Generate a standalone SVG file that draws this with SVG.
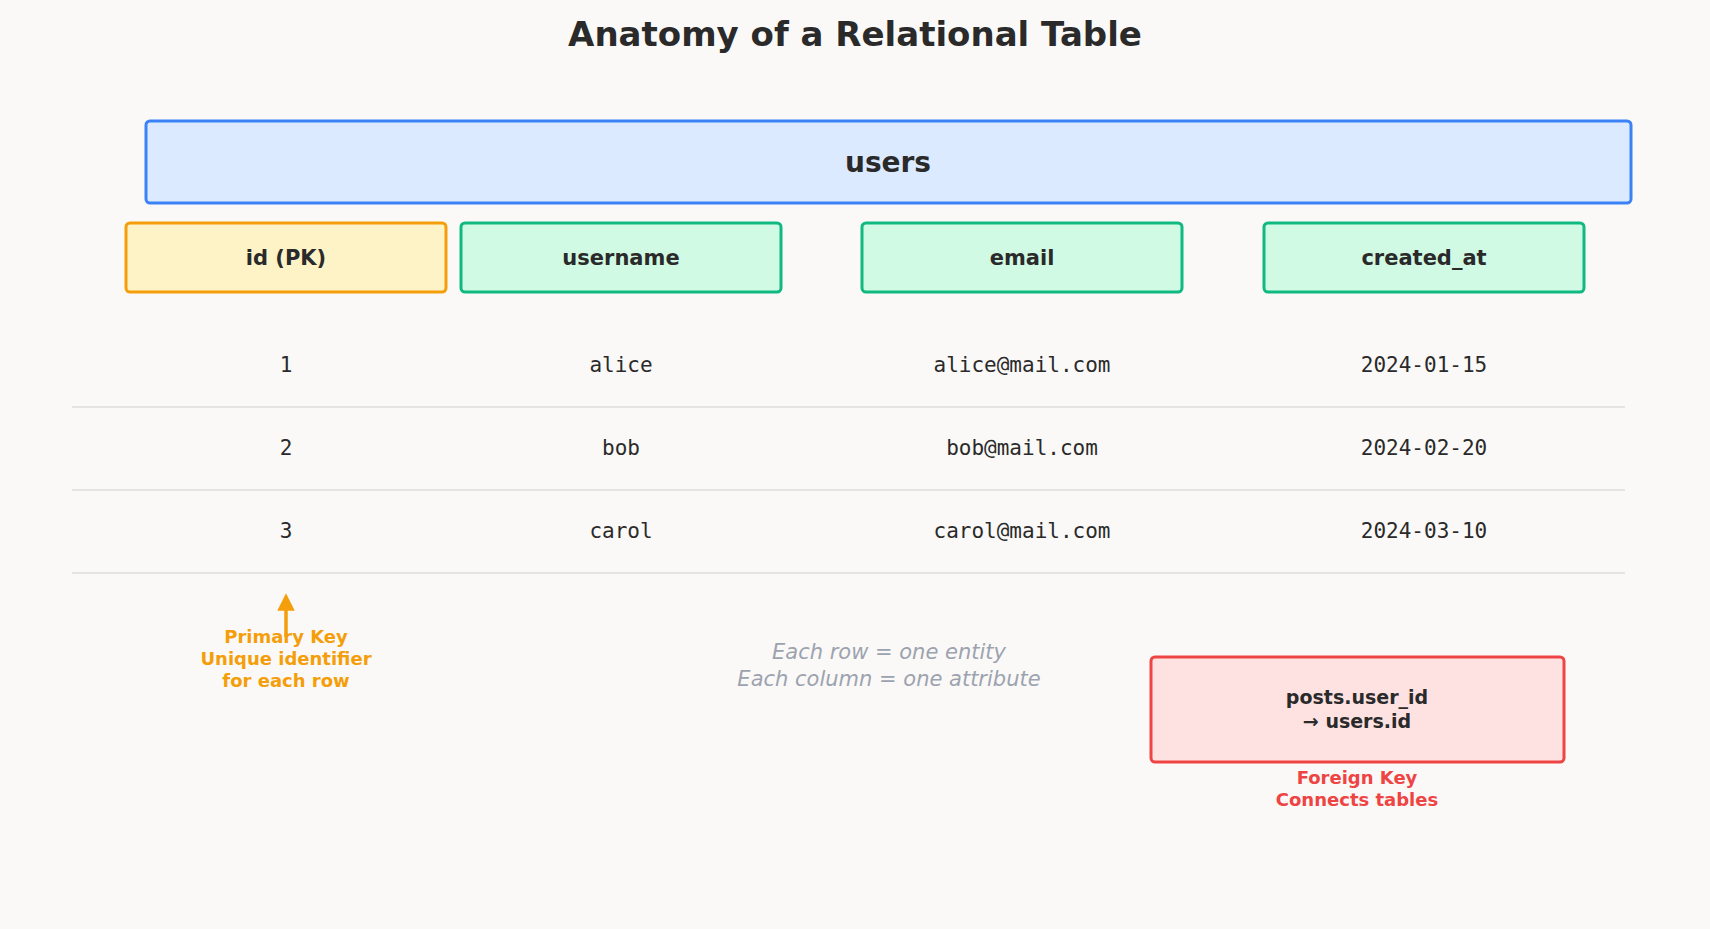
<svg xmlns="http://www.w3.org/2000/svg" width="1710" height="929" viewBox="0 0 1710 929">
<style>
text{font-family:"DejaVu Sans",sans-serif;text-anchor:middle;dominant-baseline:central}
.hdr{font-weight:bold;font-size:21px;fill:#2a2a2a}
.cell{font-family:"DejaVu Sans Mono",monospace;font-size:21px;fill:#2a2a2a}
.row{stroke:#dddddd;stroke-width:1.5}
.col{fill:#d1fae5;stroke:#10b981;stroke-width:3}
.pk{font-weight:bold;font-size:18px;fill:#f59e0b}
.fk{font-weight:bold;font-size:18px;fill:#ef4444}
</style>
<defs><marker id="ah" viewBox="0 0 10 10" refX="5" refY="5" markerWidth="5" markerHeight="5" orient="auto"><path d="M0,0L10,5L0,10z" fill="#f59e0b"/></marker></defs>
<rect width="1710" height="929" fill="#faf9f7"/>
<text x="855" y="34" font-size="34" font-weight="bold" fill="#2a2a2a">Anatomy of a Relational Table</text>
<g id="users"><rect x="146" y="121" width="1485" height="82" rx="4" fill="#dbeafe" stroke="#3b82f6" stroke-width="3"/><text x="888" y="162" font-size="28" font-weight="bold" fill="#2a2a2a">users</text></g>
<g id="col-id"><rect x="126" y="223" width="320" height="69" rx="4" fill="#fef3c7" stroke="#f59e0b" stroke-width="3"/><text class="hdr" x="286" y="258">id (PK)</text></g>
<g id="col-username"><rect class="col" x="461" y="223" width="320" height="69" rx="4"/><text class="hdr" x="621" y="258">username</text></g>
<g id="col-email"><rect class="col" x="862" y="223" width="320" height="69" rx="4"/><text class="hdr" x="1022" y="258">email</text></g>
<g id="col-created"><rect class="col" x="1264" y="223" width="320" height="69" rx="4"/><text class="hdr" x="1424" y="258">created_at</text></g>
<g id="rows">
<text class="cell" x="286" y="365">1</text><text class="cell" x="621" y="365">alice</text><text class="cell" x="1022" y="365">alice@mail.com</text><text class="cell" x="1424" y="365">2024-01-15</text>
<line class="row" x1="72" y1="407" x2="1625" y2="407"/>
<text class="cell" x="286" y="448">2</text><text class="cell" x="621" y="448">bob</text><text class="cell" x="1022" y="448">bob@mail.com</text><text class="cell" x="1424" y="448">2024-02-20</text>
<line class="row" x1="72" y1="490" x2="1625" y2="490"/>
<text class="cell" x="286" y="531">3</text><text class="cell" x="621" y="531">carol</text><text class="cell" x="1022" y="531">carol@mail.com</text><text class="cell" x="1424" y="531">2024-03-10</text>
<line class="row" x1="72" y1="573" x2="1625" y2="573"/>
</g>
<g id="connectors"><line x1="286" y1="637" x2="286" y2="602" stroke="#f59e0b" stroke-width="3.5" marker-end="url(#ah)"/></g>
<g id="pk-note"><text class="pk" x="286" y="636">Primary Key</text><text class="pk" x="286" y="658">Unique identifier</text><text class="pk" x="286" y="680">for each row</text></g>
<g id="note"><text x="889" y="652" font-size="21" font-style="italic" fill="#9ca3af">Each row = one entity</text><text x="889" y="679" font-size="21" font-style="italic" fill="#9ca3af">Each column = one attribute</text></g>
<g id="fk"><rect x="1151" y="657" width="413" height="105" rx="4" fill="#fee2e2" stroke="#ef4444" stroke-width="3"/><text x="1357" y="697" font-size="19" font-weight="bold" fill="#2a2a2a">posts.user_id</text><text x="1357" y="721" font-size="19" font-weight="bold" fill="#2a2a2a">→ users.id</text>
<text class="fk" x="1357" y="777">Foreign Key</text><text class="fk" x="1357" y="799">Connects tables</text></g>
</svg>
